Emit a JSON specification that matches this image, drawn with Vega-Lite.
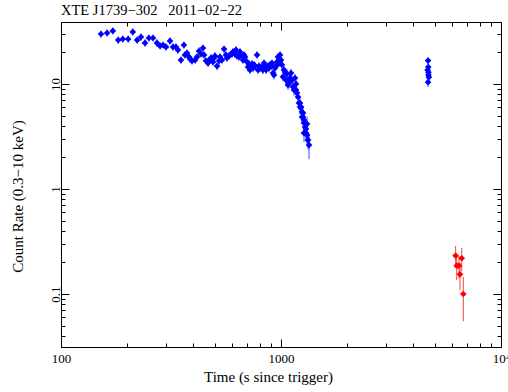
{
"$schema": "https://vega.github.io/schema/vega-lite/v6.json",
"width": 440, "height": 325,
"autosize": {"type": "none"},
"padding": {"left": 61, "top": 22, "right": 7, "bottom": 45},
"background": "white",
"title": {"text": "XTE J1739−302\u00a0\u00a0\u00a02011−02−22", "anchor": "start", "frame": "group", "font": "Liberation Serif", "fontSize": 14.5, "fontWeight": "normal", "color": "black", "baseline": "alphabetic", "offset": 7, "dy": 15},
"config": {
  "view": {"stroke": "black", "strokeWidth": 1},
  "axis": {"domainColor": "black", "tickColor": "black", "labelColor": "black", "titleColor": "black", "labelFont": "Liberation Serif", "titleFont": "Liberation Serif", "labelFontSize": 13, "titleFontSize": 15, "titleFontWeight": "normal", "grid": false, "tickWidth": 1, "domainWidth": 1}
},
"data": {"values": [
{"t":152,"r":29.9,"e":2.4,"s":"A"},{"t":162,"r":30.6,"e":2.4,"s":"A"},{"t":172,"r":32.0,"e":2.4,"s":"A"},{"t":182,"r":26.2,"e":2.1,"s":"A"},{"t":191,"r":26.8,"e":2.1,"s":"A"},{"t":202,"r":26.8,"e":2.1,"s":"A"},{"t":212,"r":31.3,"e":2.4,"s":"A"},{"t":222,"r":26.2,"e":2.1,"s":"A"},{"t":231,"r":28.0,"e":2.4,"s":"A"},{"t":241,"r":24.6,"e":2.1,"s":"A"},
{"t":251,"r":27.4,"e":2.1,"s":"A"},{"t":262,"r":27.4,"e":2.1,"s":"A"},{"t":273,"r":24.6,"e":2.1,"s":"A"},{"t":282,"r":23.0,"e":1.8,"s":"A"},{"t":291,"r":23.5,"e":1.8,"s":"A"},{"t":300,"r":22.5,"e":1.8,"s":"A"},{"t":313,"r":25.7,"e":2.1,"s":"A"},{"t":323,"r":22.5,"e":1.8,"s":"A"},{"t":333,"r":22.5,"e":1.8,"s":"A"},{"t":340,"r":21.1,"e":1.8,"s":"A"},
{"t":351,"r":16.9,"e":1.3,"s":"A"},{"t":362,"r":23.5,"e":1.8,"s":"A"},{"t":366,"r":18.9,"e":1.5,"s":"A"},{"t":374,"r":19.7,"e":1.5,"s":"A"},{"t":382,"r":18.1,"e":1.5,"s":"A"},{"t":386,"r":17.3,"e":1.5,"s":"A"},{"t":394,"r":16.6,"e":1.3,"s":"A"},{"t":407,"r":16.9,"e":1.3,"s":"A"},{"t":415,"r":18.1,"e":1.5,"s":"A"},{"t":424,"r":20.6,"e":1.8,"s":"A"},
{"t":433,"r":19.3,"e":1.5,"s":"A"},{"t":442,"r":22.0,"e":1.8,"s":"A"},{"t":447,"r":18.9,"e":1.5,"s":"A"},{"t":456,"r":16.6,"e":1.3,"s":"A"},{"t":466,"r":15.8,"e":1.3,"s":"A"},{"t":471,"r":16.9,"e":1.3,"s":"A"},{"t":481,"r":17.7,"e":1.5,"s":"A"},{"t":491,"r":16.2,"e":1.3,"s":"A"},{"t":496,"r":17.7,"e":1.5,"s":"A"},{"t":501,"r":18.5,"e":1.5,"s":"A"},
{"t":512,"r":14.8,"e":1.3,"s":"A"},{"t":523,"r":16.6,"e":1.3,"s":"A"},{"t":528,"r":18.1,"e":1.5,"s":"A"},{"t":539,"r":16.9,"e":1.3,"s":"A"},{"t":551,"r":21.5,"e":1.8,"s":"A"},{"t":562,"r":18.9,"e":1.5,"s":"A"},{"t":568,"r":17.7,"e":1.5,"s":"A"},{"t":580,"r":18.5,"e":1.5,"s":"A"},{"t":593,"r":19.3,"e":1.5,"s":"A"},{"t":599,"r":19.3,"e":1.5,"s":"A"},
{"t":605,"r":20.2,"e":1.8,"s":"A"},{"t":618,"r":19.3,"e":1.5,"s":"A"},{"t":624,"r":21.1,"e":1.8,"s":"A"},{"t":631,"r":18.5,"e":1.5,"s":"A"},{"t":644,"r":18.1,"e":1.5,"s":"A"},{"t":651,"r":20.2,"e":1.8,"s":"A"},{"t":658,"r":18.9,"e":1.5,"s":"A"},{"t":672,"r":16.9,"e":1.3,"s":"A"},{"t":679,"r":18.9,"e":1.5,"s":"A"},{"t":686,"r":18.1,"e":1.5,"s":"A"},
{"t":701,"r":16.2,"e":1.3,"s":"A"},{"t":708,"r":14.5,"e":1.3,"s":"A"},{"t":715,"r":15.5,"e":1.3,"s":"A"},{"t":723,"r":13.6,"e":1.2,"s":"A"},{"t":731,"r":14.5,"e":1.3,"s":"A"},{"t":738,"r":15.5,"e":1.3,"s":"A"},{"t":746,"r":14.2,"e":1.3,"s":"A"},{"t":754,"r":15.2,"e":1.3,"s":"A"},{"t":762,"r":14.8,"e":1.3,"s":"A"},{"t":778,"r":18.9,"e":1.5,"s":"A"},
{"t":786,"r":13.6,"e":1.2,"s":"A"},{"t":794,"r":14.8,"e":1.3,"s":"A"},{"t":803,"r":14.2,"e":1.3,"s":"A"},{"t":820,"r":14.5,"e":1.3,"s":"A"},{"t":828,"r":13.6,"e":1.2,"s":"A"},{"t":837,"r":15.8,"e":1.3,"s":"A"},{"t":846,"r":14.8,"e":1.3,"s":"A"},{"t":855,"r":13.6,"e":1.2,"s":"A"},{"t":873,"r":14.8,"e":1.3,"s":"A"},{"t":882,"r":14.2,"e":1.3,"s":"A"},
{"t":891,"r":15.2,"e":1.3,"s":"A"},{"t":901,"r":14.8,"e":1.3,"s":"A"},{"t":910,"r":15.8,"e":1.3,"s":"A"},{"t":920,"r":12.7,"e":1.2,"s":"A"},{"t":929,"r":12.2,"e":1.2,"s":"A"},{"t":939,"r":14.2,"e":1.3,"s":"A"},{"t":949,"r":14.8,"e":1.3,"s":"A"},{"t":959,"r":16.2,"e":1.3,"s":"A"},{"t":969,"r":18.1,"e":1.5,"s":"A"},{"t":979,"r":15.8,"e":1.3,"s":"A"},
{"t":990,"r":18.9,"e":1.5,"s":"A"},{"t":1000,"r":16.9,"e":1.3,"s":"A"},{"t":1010,"r":15.2,"e":1.3,"s":"A"},{"t":1021,"r":11.7,"e":1.1,"s":"A"},{"t":1032,"r":13.6,"e":1.2,"s":"A"},{"t":1043,"r":13.0,"e":1.2,"s":"A"},{"t":1054,"r":10.9,"e":1.1,"s":"A"},{"t":1065,"r":12.5,"e":1.2,"s":"A"},{"t":1076,"r":9.78,"e":1.0,"s":"A"},{"t":1087,"r":10.2,"e":1.1,"s":"A"},
{"t":1099,"r":11.4,"e":1.1,"s":"A"},{"t":1110,"r":12.7,"e":1.2,"s":"A"},{"t":1122,"r":10.9,"e":1.1,"s":"A"},{"t":1134,"r":9.36,"e":1.0,"s":"A"},{"t":1146,"r":8.77,"e":1.0,"s":"A"},{"t":1158,"r":11.4,"e":1.1,"s":"A"},{"t":1170,"r":8.77,"e":1.0,"s":"A"},{"t":1170,"r":10.0,"e":1.0,"s":"A"},{"t":1182,"r":8.21,"e":1.0,"s":"A"},{"t":1195,"r":7.52,"e":0.9,"s":"A"},
{"t":1207,"r":6.59,"e":0.9,"s":"A"},{"t":1220,"r":6.59,"e":0.9,"s":"A"},{"t":1220,"r":6.04,"e":0.9,"s":"A"},{"t":1233,"r":6.04,"e":0.9,"s":"A"},{"t":1246,"r":5.41,"e":0.8,"s":"A"},{"t":1246,"r":4.85,"e":0.7,"s":"A"},{"t":1259,"r":5.30,"e":0.8,"s":"A"},{"t":1259,"r":4.85,"e":0.7,"s":"A"},{"t":1272,"r":4.25,"e":0.7,"s":"A"},{"t":1272,"r":4.54,"e":0.7,"s":"A"},
{"t":1272,"r":3.41,"e":0.6,"s":"A"},{"t":1286,"r":3.90,"e":0.6,"s":"A"},{"t":1299,"r":3.41,"e":0.6,"s":"A"},{"t":1299,"r":3.73,"e":0.6,"s":"A"},{"t":1313,"r":3.27,"e":0.6,"s":"A"},{"t":1313,"r":4.16,"e":0.7,"s":"A"},{"t":1327,"r":2.93,"e":0.55,"s":"A"},{"t":1341,"r":2.62,"e":0.7,"s":"A"},
{"t":4660,"r":16.7,"e":1.2,"s":"A"},{"t":4640,"r":13.6,"e":1.1,"s":"A"},{"t":4680,"r":12.9,"e":1.1,"s":"A"},{"t":4680,"r":12.2,"e":1.1,"s":"A"},{"t":4700,"r":11.6,"e":1.0,"s":"A"},{"t":4660,"r":10.4,"e":1.0,"s":"A"},{"t":4670,"r":14.5,"e":1.1,"s":"A"},
{"t":6220,"r":0.232,"e":0.055,"s":"B"},{"t":6290,"r":0.186,"e":0.05,"s":"B"},{"t":6440,"r":0.186,"e":0.045,"s":"B"},{"t":6630,"r":0.219,"e":0.055,"s":"B"},{"t":6510,"r":0.154,"e":0.045,"s":"B"},{"t":6740,"r":0.100,"e":0.045,"s":"B"}
]},
"resolve": {"axis": {"x": "independent", "y": "independent"}},
"layer": [
  {
    "mark": {"type": "errorbar", "thickness": 1, "opacity": 0.75},
    "encoding": {
      "x": {"field": "t", "type": "quantitative", "scale": {"type": "log", "domain": [100, 10000]},
            "axis": {"orient": "top", "title": null, "labels": false, "domain": false, "values": [100,200,300,400,500,600,700,800,900,1000,2000,3000,4000,5000,6000,7000,8000,9000,10000],
                     "tickSize": {"condition": {"test": "datum.value == 100 || datum.value == 1000 || datum.value == 10000", "value": -8}, "value": -4}}},
      "y": {"field": "r", "type": "quantitative", "scale": {"type": "log", "domain": [0.0313, 38.9]},
            "axis": {"orient": "right", "title": null, "labels": false, "domain": false, "values": [0.04,0.05,0.06,0.07,0.08,0.09,0.1,0.2,0.3,0.4,0.5,0.6,0.7,0.8,0.9,1,2,3,4,5,6,7,8,9,10,20,30],
                     "tickSize": {"condition": {"test": "datum.value == 0.1 || datum.value == 1 || datum.value == 10", "value": -8}, "value": -4}}},
      "yError": {"field": "e"},
      "color": {"field": "s", "type": "nominal", "scale": {"domain": ["A", "B"], "range": ["#0000ff", "#ff0000"]}, "legend": null}
    }
  },
  {
    "mark": {"type": "point", "shape": "diamond", "filled": true, "size": 45, "opacity": 1},
    "encoding": {
      "x": {"field": "t", "type": "quantitative", "scale": {"type": "log", "domain": [100, 10000]},
            "axis": {"orient": "bottom", "title": "Time (s since trigger)", "values": [100,200,300,400,500,600,700,800,900,1000,2000,3000,4000,5000,6000,7000,8000,9000,10000],
                     "tickSize": {"condition": {"test": "datum.value == 100 || datum.value == 1000 || datum.value == 10000", "value": -8}, "value": -4},
                     "labelExpr": "datum.value == 100 ? '100' : datum.value == 1000 ? '1000' : datum.value == 10000 ? '10⁴' : ''",
                     "labelFlush": false, "labelOverlap": false, "labelPadding": 13, "titlePadding": 0, "titleX": 207}},
      "y": {"field": "r", "type": "quantitative", "scale": {"type": "log", "domain": [0.0313, 38.9]},
            "axis": {"orient": "left", "title": "Count Rate (0.3−10 keV)", "values": [0.04,0.05,0.06,0.07,0.08,0.09,0.1,0.2,0.3,0.4,0.5,0.6,0.7,0.8,0.9,1,2,3,4,5,6,7,8,9,10,20,30],
                     "tickSize": {"condition": {"test": "datum.value == 0.1 || datum.value == 1 || datum.value == 10", "value": -8}, "value": -4},
                     "labelExpr": "datum.value == 0.1 ? '0.1' : datum.value == 1 ? '1' : datum.value == 10 ? '10' : ''",
                     "labelAngle": -90, "labelAlign": "center", "labelBaseline": "bottom", "labelFlush": false, "labelOverlap": false, "labelPadding": 7, "titlePadding": 20, "titleY": 174}},
      "color": {"field": "s", "type": "nominal", "scale": {"domain": ["A", "B"], "range": ["#0000ff", "#ff0000"]}, "legend": null}
    }
  }
]
}
